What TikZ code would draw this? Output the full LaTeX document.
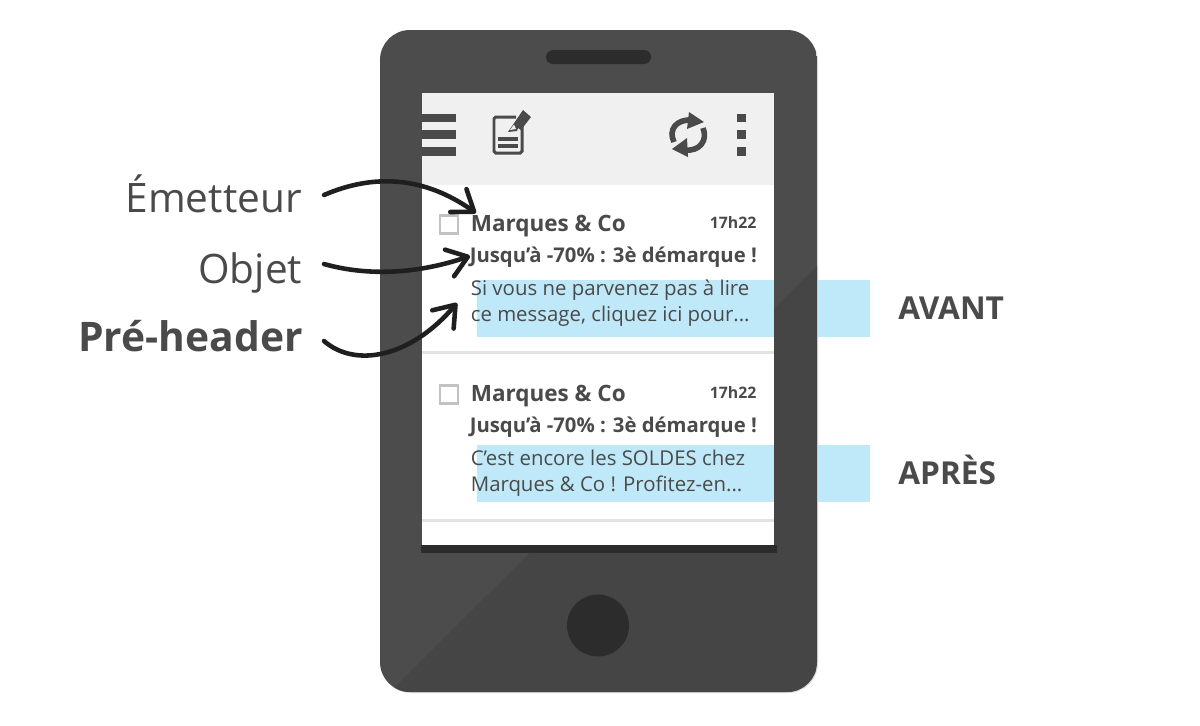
\documentclass[tikz,border=0pt]{standalone}
\usepackage{fontspec}
\setmainfont{Open Sans}
\usetikzlibrary{arrows.meta}
\definecolor{bodyl}{HTML}{4C4C4C}
\definecolor{bodyd}{HTML}{454545}
\definecolor{ink}{HTML}{4A4A4A}
\definecolor{coal}{HTML}{2C2C2C}
\definecolor{sky}{HTML}{BFE9F9}
\tikzset{
	mail/.style={anchor=base west, inner sep=0pt, text=ink},
	sender/.style={mail, font=\bfseries\fontsize{12.8}{14}\selectfont},
	subject/.style={mail, font=\bfseries\fontsize{11.55}{14}\selectfont},
	body/.style={mail, font=\fontsize{11.6}{14}\selectfont},
	hour/.style={mail, font=\bfseries\fontsize{9}{11}\selectfont},
	lab/.style={anchor=base east, inner sep=0pt, text=ink, font=\fontsize{23.1}{28}\selectfont},
	side/.style={mail, font=\bfseries\fontsize{18}{21}\selectfont},
	check/.style={draw=black!24, line width=1.7pt},
	hand/.style={line width=2.6pt, line cap=round, draw=black!88, -{Straight Barb[length=11pt, width=16pt, line width=2.6pt, round]}},
	tool/.style={fill=ink},
}

\begin{document}
\begin{tikzpicture}[x=0.02cm, y=-0.02cm]
	\useasboundingbox (0,0) rectangle (1200,725);

	\fill[sky] (800,280) rectangle (870,337);
	\fill[sky] (800,445) rectangle (870,502);

	\fill[black!14, rounded corners=0.6cm] (381,31) rectangle (818,693);
	\begin{scope}
		\clip[rounded corners=0.6cm] (380,30) rectangle (817,692);
		\fill[bodyl] (380,30) rectangle (817,692);
		\fill[bodyd] (817,266) -- (817,692) -- (390,692) -- cycle;
	\end{scope}

	\fill[white] (422,93) rectangle (774,545);
	\fill[black!6] (422,93) rectangle (774,185);
	\fill[coal] (421,545) rectangle (777,553);
	\fill[coal, rounded corners=0.14cm] (546,50) rectangle (651,64);
	\fill[coal] (598,625.5) circle[radius=0.62cm];

	\fill[sky] (477,280) rectangle (774,337);
	\fill[sky] (477,445) rectangle (774,502);
	\fill[black!11] (422,351) rectangle (774,353.5);
	\fill[black!11] (422,519) rectangle (774,521.5);

	\foreach \y in {113.5,130,147} {
		\fill[tool] (422,\y) rectangle (456,\y+8.5);
		\fill[tool] (737,\y) rectangle (746,\y+8.5);
	}

	\draw[ink, line width=1.7pt, rounded corners=1pt] (516,117) -- (494,117) -- (494,153) -- (522,153) -- (522,124);
	\fill[ink] (498,137) rectangle (518,140.5);
	\fill[ink] (498,144) rectangle (518,147.5);
	\fill[tool] (508,132) -- (523,110) -- (531,117) -- (521,130) -- (518,128) -- (517,131) -- cycle;
	\fill[black!6] (510,130) -- (514,124.5) -- (516,129) -- cycle;

	\draw[ink, line width=3.2pt] (674,142) .. controls (668,130) and (676,119) .. (692,120);
	\fill[tool] (689,112) -- (704,122) -- (687,129) -- cycle;
	\draw[ink, line width=3.2pt] (703,128) .. controls (708,140) and (700,152) .. (684,150);
	\fill[tool] (687,138) -- (672,149) -- (688,157) -- cycle;

	\draw[check] (440,215) rectangle (458,233);
	\node[sender] (m1) at (470.5,231) {Marques \& Co};
	\node[hour] (h1) at (709.5,228) {17h22};
	\node[subject] (o1) at (469.5,262.5) {Jusqu’à -70\% : 3è démarque !};
	\node[body] (s1) at (470.5,295.5) {Si vous ne parvenez pas à lire};
	\node[body] (t1) at (470.5,321.5) {ce message, cliquez ici pour...};

	\draw[check] (440,385) rectangle (458,403);
	\node[sender] (m2) at (470.5,401) {Marques \& Co};
	\node[hour] (h2) at (709.5,398) {17h22};
	\node[subject] (o2) at (469.5,432.5) {Jusqu’à -70\% : 3è démarque !};
	\node[body] (s2) at (470.5,465) {C’est encore les SOLDES chez};
	\node[body] (t2) at (470.5,491) {Marques \& Co ! Profitez-en...};

	\node[lab] (emetteur) at (302,212) {Émetteur};
	\node[lab] (objet) at (302.5,283) {Objet};
	\node[lab, font=\bfseries\fontsize{23.2}{28}\selectfont] (preheader) at (303,351) {Pré-header};
	\node[side] (avant) at (898,319) {AVANT};
	\node[side] (apres) at (898,484) {APRÈS};

	\coordinate (e1) at (324,195);
	\coordinate (e2) at (476,213);
	\coordinate (b1) at (324,264);
	\coordinate (b2) at (470,256);
	\coordinate (p1) at (324,341);
	\coordinate (p2) at (457,303);

	\draw[hand] (e1) .. controls (375,173) and (425,177) .. (e2);
	\draw[hand] (b1) .. controls (370,277) and (420,273) .. (b2);
	\draw[hand] (p1) .. controls (355,368) and (410,358) .. (p2);
\end{tikzpicture}
\end{document}
